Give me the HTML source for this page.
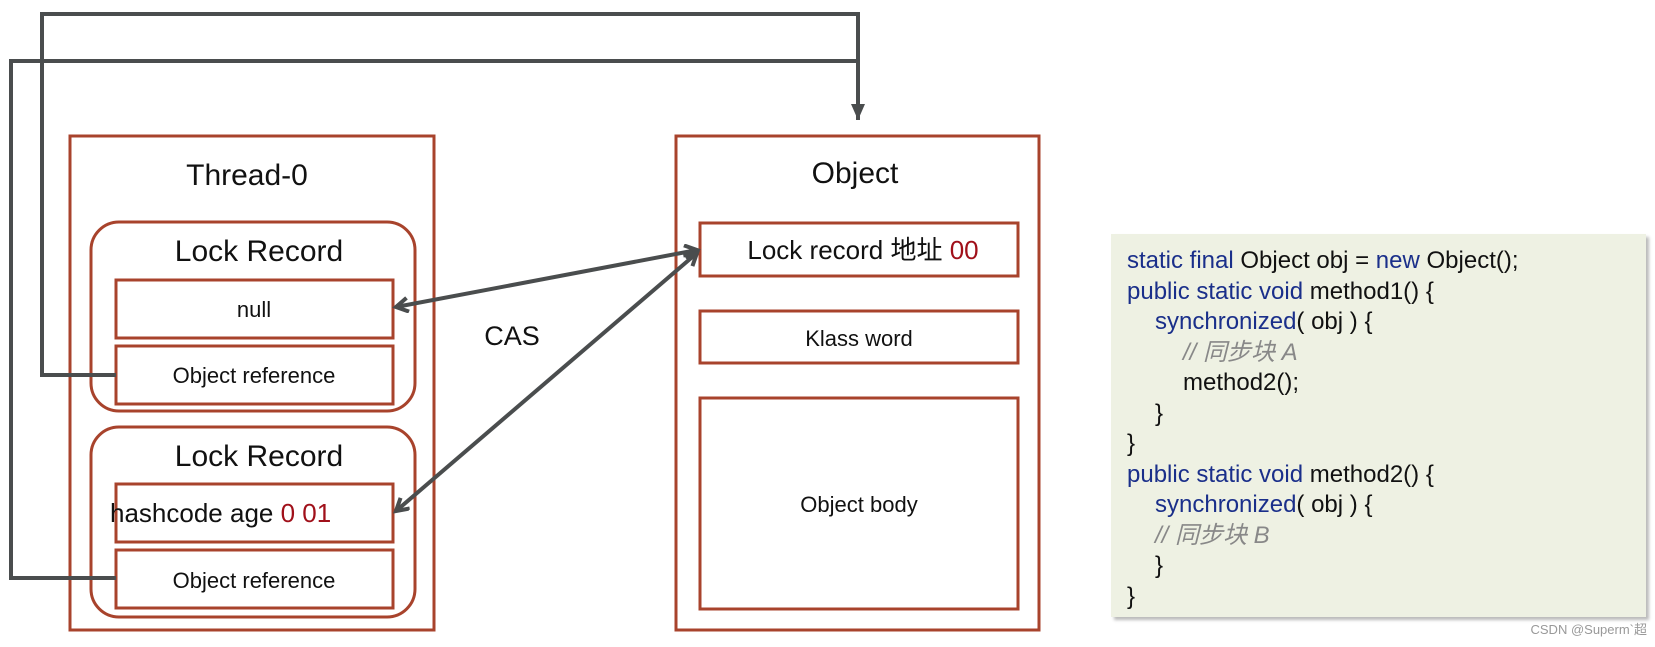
<!DOCTYPE html>
<html><head><meta charset="utf-8"><style>
html,body{margin:0;padding:0;background:#fff;}
body{width:1655px;height:647px;position:relative;overflow:hidden;font-family:"Liberation Sans","Noto Sans CJK SC",sans-serif;}
.code{position:absolute;left:1111px;top:234px;width:535px;height:383px;background:#eef1e3;box-shadow:3px 3px 3px #bbb;}
.ln{position:absolute;font-size:24px;line-height:26px;color:#111;white-space:pre;letter-spacing:0;font-family:"Liberation Sans","Noto Sans CJK SC",sans-serif;}
.k{color:#1a2f8a;}
.c{color:#888;font-style:italic;}
.wm{position:absolute;right:8px;top:619px;font-size:13px;color:#999;}
</style></head><body>
<svg width="1655" height="647" style="position:absolute;left:0;top:0" font-family="Liberation Sans, Noto Sans CJK SC, sans-serif">
<defs>
<marker id="a" markerWidth="20" markerHeight="20" refX="14" refY="8" orient="auto-start-reverse" markerUnits="userSpaceOnUse"><path d="M2,1 L14,8 L2,15" fill="none" stroke="#4a4d4e" stroke-width="4"/></marker>
<marker id="d" markerWidth="20" markerHeight="20" refX="8" refY="16" orient="0" markerUnits="userSpaceOnUse"><path d="M1,0 L8,16 L15,0 Z" fill="#4a4d4e"/></marker>
</defs>
<g fill="#fff" stroke="#a8432c" stroke-width="3">
<rect x="70" y="136" width="364" height="494"/>
<rect x="91" y="222" width="324" height="189" rx="28"/>
<rect x="116" y="280" width="277" height="58"/>
<rect x="116" y="346" width="277" height="58"/>
<rect x="91" y="427" width="324" height="190" rx="28"/>
<rect x="116" y="484" width="277" height="58"/>
<rect x="116" y="550" width="277" height="58"/>
<rect x="676" y="136" width="363" height="494"/>
<rect x="700" y="223" width="318" height="53"/>
<rect x="700" y="311" width="318" height="52"/>
<rect x="700" y="398" width="318" height="211"/>
</g>
<g fill="#111" text-anchor="middle">
<text x="247" y="185" font-size="30">Thread-0</text>
<text x="259" y="261" font-size="30">Lock Record</text>
<text x="254" y="317" font-size="22">null</text>
<text x="254" y="383" font-size="22">Object reference</text>
<text x="259" y="466" font-size="30">Lock Record</text>
<text x="110" y="522" font-size="26" text-anchor="start">hashcode age <tspan fill="#a0101a">0 01</tspan></text>
<text x="254" y="588" font-size="22">Object reference</text>
<text x="855" y="183" font-size="30">Object</text>
<text x="863" y="259" font-size="26">Lock record 地址 <tspan fill="#a0101a">00</tspan></text>
<text x="859" y="346" font-size="22">Klass word</text>
<text x="859" y="512" font-size="22">Object body</text>
<text x="512" y="345" font-size="27">CAS</text>
</g>
<g fill="none" stroke="#4a4d4e" stroke-width="4">
<polyline points="116,375 42,375 42,14 858,14 858,120" marker-end="url(#d)"/>
<polyline points="116,578 11,578 11,61 858,61"/>
<line x1="396" y1="307" x2="697" y2="250" marker-start="url(#a)" marker-end="url(#a)"/>
<line x1="396" y1="511" x2="697" y2="253" marker-start="url(#a)" marker-end="url(#a)"/>
</g>
</svg>
<div class="code">
<div class="ln" style="left:16px;top:14px"><span class="k">static final</span> Object obj = <span class="k">new</span> Object();</div>
<div class="ln" style="left:16px;top:45px"><span class="k">public static void</span> method1() {</div>
<div class="ln" style="left:44px;top:75px"><span class="k">synchronized</span>( obj ) {</div>
<div class="ln c" style="left:72px;top:106px">// 同步块 A</div>
<div class="ln" style="left:72px;top:136px">method2();</div>
<div class="ln" style="left:44px;top:167px">}</div>
<div class="ln" style="left:16px;top:197px">}</div>
<div class="ln" style="left:16px;top:228px"><span class="k">public static void</span> method2() {</div>
<div class="ln" style="left:44px;top:258px"><span class="k">synchronized</span>( obj ) {</div>
<div class="ln c" style="left:44px;top:289px">// 同步块 B</div>
<div class="ln" style="left:44px;top:319px">}</div>
<div class="ln" style="left:16px;top:350px">}</div>
</div>
<div class="wm">CSDN @Superm`超</div>
</body></html>
